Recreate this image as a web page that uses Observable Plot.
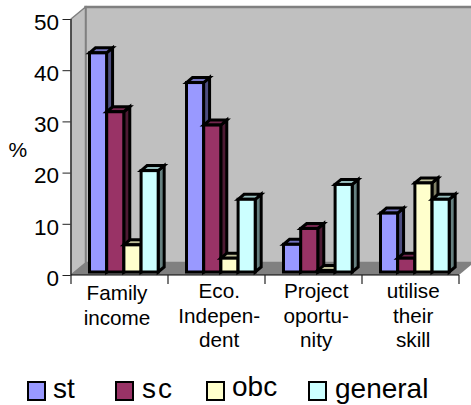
<!DOCTYPE html>
<html>
<head>
<meta charset="utf-8">
<script src="https://cdn.jsdelivr.net/npm/d3@7"></script>
<script src="https://cdn.jsdelivr.net/npm/@observablehq/plot@0.6"></script>
<style>
html,body{margin:0;padding:0;background:#fff;overflow:hidden}
#chart svg{display:block;overflow:hidden}
#legend{position:relative;width:471px;height:40px;font-family:"Liberation Sans",Arial,sans-serif;font-size:28px;color:#000}
#legend .sw{position:absolute;box-sizing:border-box;width:19px;height:20px;border:2.5px solid #000;top:16px}
#legend .lb{position:absolute;line-height:32px;top:8px;white-space:nowrap}
</style>
</head>
<body>
<div id="chart"></div>
<div id="legend"></div>
<script>
const categories = ["Family\nincome", "Eco.\nIndepen-\ndent", "Project\noportu-\nnity", "utilise\ntheir\nskill"];
const series = ["st", "sc", "obc", "general"];
const stValues = [42.8, 37, 5.4, 11.5];
const scValues = [31.3, 28.7, 8.5, 2.7];
const obcValues = [5.3, 2.7, 0.3, 17.4];
const generalValues = [19.8, 14.2, 17.1, 14.2];
const colors = ["#9999FF", "#993366", "#FFFFCC", "#CCFFFF"];
const yTicks = [0, 10, 20, 30, 40, 50];

const rows = [stValues, scValues, obcValues, generalValues].flatMap((vals, s) =>
  vals.map((value, c) => ({cat: categories[c], series: series[s], value})));

const FONT = '"Liberation Sans", Arial, sans-serif';
const SVGNS = "http://www.w3.org/2000/svg";
const depthX = 14.5, depthY = 12;      // wall depth
const barDX = 6, barDY = 5, lift = 3;  // bar depth
const groupStart = 18.5, barStep = 17.2;

function el(name, attrs) {
  const e = document.createElementNS(SVGNS, name);
  for (const k in attrs) e.setAttribute(k, attrs[k]);
  return e;
}

function room(index, {x, y}, values, {width}) {
  const g = el("g", {});
  const step = x(categories[1]) - x(categories[0]);
  const x0 = x(categories[0]), x1 = x(categories[categories.length - 1]) + step;
  const y0 = y(0), yT = y(50);
  const poly = (pts, fill, stroke, sw) => g.appendChild(el("polygon", {
    points: pts.map(p => p.join(",")).join(" "), fill, stroke: stroke || "none", "stroke-width": sw || 0}));
  // back wall and side wall
  poly([[x0 + depthX, yT - depthY], [width + 5, yT - depthY], [width + 5, y0 - depthY], [x0 + depthX, y0 - depthY]], "#C0C0C0", "#808080", 2.5);
  poly([[x0, yT], [x0 + depthX, yT - depthY], [x0 + depthX, y0 - depthY], [x0, y0]], "#C0C0C0", "#808080", 1.5);
  // floor
  poly([[x0, y0], [x0 + depthX, y0 - depthY], [x1 + depthX, y0 - depthY], [x1, y0]], "#808080");
  // axes lines and category ticks
  g.appendChild(el("line", {x1: x0, x2: x0, y1: yT, y2: y0, stroke: "#222", "stroke-width": 1.2}));
  g.appendChild(el("line", {x1: x0, x2: x1, y1: y0, y2: y0, stroke: "#000", "stroke-width": 1.2}));
  for (let i = 0; i <= categories.length; ++i) {
    g.appendChild(el("line", {x1: x0 + i * step, x2: x0 + i * step, y1: y0, y2: y0 + 9, stroke: "#222", "stroke-width": 1.2}));
  }
  return g;
}

function shade(c, k) {
  const q = d3.rgb(c);
  return d3.rgb(q.r * k, q.g * k, q.b * k).formatHex();
}

function addDepth(index, scales, values, dims, ctx, next) {
  const g = next(index, scales, values, dims, ctx);
  for (const r of Array.from(g.querySelectorAll("rect"))) {
    const X = +r.getAttribute("x"), Y = +r.getAttribute("y");
    const W = +r.getAttribute("width"), H = +r.getAttribute("height");
    const f = r.getAttribute("fill");
    const side = el("polygon", {
      points: [[X + W, Y], [X + W + barDX, Y - barDY], [X + W + barDX, Y + H - barDY], [X + W, Y + H]].map(p => p.join(",")).join(" "),
      fill: shade(f, 0.5)});
    const top = el("polygon", {
      points: [[X, Y], [X + barDX, Y - barDY], [X + W + barDX, Y - barDY], [X + W, Y]].map(p => p.join(",")).join(" "),
      fill: shade(f, 0.75)});
    r.parentNode.insertBefore(side, r);
    r.parentNode.insertBefore(top, r);
  }
  return g;
}

const bandW = 388.5 / categories.length;
const barMarks = series.map((s, i) => Plot.barY(rows.filter(d => d.series === s), {
  x: "cat", y: "value", fill: "series",
  stroke: "#000", strokeWidth: 3, strokeLinejoin: "miter",
  insetLeft: groupStart + i * barStep,
  insetRight: bandW - groupStart - (i + 1) * barStep,
  dy: -lift,
  render: addDepth
}));

const labelStyle = {
  x: d => d, y: () => 0, text: d => d, fontSize: 20.7, lineHeight: 1.18,
  lineAnchor: "top", textAnchor: "middle", fill: "#000", fontFamily: FONT
};

const chart = Plot.plot({
  width: 471, height: 365,
  marginLeft: 70.5, marginRight: 12, marginTop: 19, marginBottom: 90,
  style: {background: "transparent", fontFamily: FONT},
  x: {domain: categories, range: [70.5, 459], padding: 0, axis: null},
  y: {domain: [0, 50], range: [275, 19], axis: null},
  color: {domain: series, range: colors},
  marks: [
    room,
    Plot.axisY({ticks: yTicks, tickSize: 8, tickFormat: () => "", anchor: "left", label: null, stroke: "#222"}),
    Plot.axisY({ticks: yTicks, tickSize: 0, tickPadding: 12, anchor: "left", fontSize: 22.5, label: null, fill: "#000", dy: 3}),
    ...barMarks,
    Plot.text(categories.slice(0, 1), {...labelStyle, dx: -3, dy: 7.5}),
    Plot.text(categories.slice(1), {...labelStyle, dx: 2.2, dy: 5.5}),
    Plot.text(["%"], {y: () => 24.5, frameAnchor: "left", dx: -62.5, textAnchor: "start", fontSize: 21, fill: "#000", fontFamily: FONT})
  ]
});
document.getElementById("chart").appendChild(chart);

const legendSwatchX = [27, 115, 206, 308];
const legendLabelX = [53, 142, 232, 335];
const legendLabelTop = [8, 8, 6, 8];
const legend = document.getElementById("legend");
series.forEach((s, i) => {
  const sw = document.createElement("span");
  sw.className = "sw";
  sw.style.left = legendSwatchX[i] + "px";
  sw.style.background = colors[i];
  legend.appendChild(sw);
  const lb = document.createElement("span");
  lb.className = "lb";
  lb.style.left = legendLabelX[i] + "px";
  lb.style.top = legendLabelTop[i] + "px";
  if (s === "sc") lb.style.letterSpacing = "2px";
  lb.textContent = s;
  legend.appendChild(lb);
});
</script>
</body>
</html>
